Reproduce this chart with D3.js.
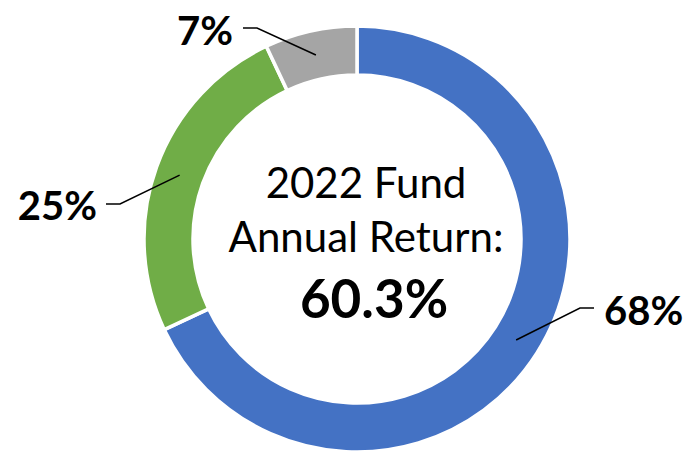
<!DOCTYPE html>
<html>
<head>
<meta charset="utf-8">
<script src="https://cdn.jsdelivr.net/npm/d3@7"></script>
<style>
  html, body { margin: 0; padding: 0; background: #fff; }
  svg { display: block; }
  text { font-family: Lato, "Noto Sans", sans-serif; fill: #000; }
</style>
</head>
<body>
<svg id="chart" width="687" height="451"></svg>
<script>
// ---- data ----
const segments = ["Segment A", "Segment B", "Segment C"];
const values = [68, 25, 7];
const colors = ["#4472C4", "#70AD47", "#A5A5A5"];
const labels = ["68%", "25%", "7%"];
const centerLines = ["2022 Fund", "Annual Return:"];
const centerValue = "60.3%";

// ---- layout ----
const W = 687, H = 451;
const cx = 357, cy = 239;
const outerR = 213, innerR = 164;
// label placement relative to center
const labelLayout = [
  { elbow: [223, 69], end: [237, 69], text: [247, 86], anchor: "start" },
  { elbow: [-237, -35], end: [-251, -35], text: [-260, -19], anchor: "end" },
  { elbow: [-100, -211], end: [-114, -211], text: [-124, -194], anchor: "end" }
];

const svg = d3.select("#chart");
const g = svg.append("g").attr("transform", `translate(${cx},${cy})`);

const pie = d3.pie().sort(null).value(d => d.value);
const data = pie(segments.map((s, i) => ({ name: s, value: values[i], color: colors[i], label: labels[i] })));
const arc = d3.arc().innerRadius(innerR).outerRadius(outerR);
const midArc = d3.arc().innerRadius((innerR + outerR) / 2).outerRadius((innerR + outerR) / 2);

g.selectAll("path.slice")
  .data(data)
  .join("path")
  .attr("class", "slice")
  .attr("d", arc)
  .attr("fill", d => d.data.color)
  .attr("stroke", "#fff")
  .attr("stroke-width", 3.5);

// leader lines
g.selectAll("polyline.leader")
  .data(data)
  .join("polyline")
  .attr("class", "leader")
  .attr("fill", "none")
  .attr("stroke", "#000")
  .attr("stroke-width", 1.5)
  .attr("points", (d, i) => {
    const c = midArc.centroid(d);
    const L = labelLayout[i];
    return [c, L.elbow, L.end].map(p => p.join(",")).join(" ");
  });

g.selectAll("text.lbl")
  .data(data)
  .join("text")
  .attr("class", "lbl")
  .attr("x", (d, i) => labelLayout[i].text[0])
  .attr("y", (d, i) => labelLayout[i].text[1])
  .attr("text-anchor", (d, i) => labelLayout[i].anchor)
  .attr("font-weight", "bold")
  .attr("font-size", 40)
  .text(d => d.data.label);

// center text
const tx = 9;
g.append("text")
  .attr("x", tx).attr("y", -41)
  .attr("text-anchor", "middle")
  .attr("font-size", 42)
  .text(centerLines[0]);
g.append("text")
  .attr("x", tx).attr("y", 13)
  .attr("text-anchor", "middle")
  .attr("font-size", 42)
  .text(centerLines[1]);
g.append("text")
  .attr("x", tx + 8).attr("y", 79)
  .attr("text-anchor", "middle")
  .attr("font-size", 53)
  .attr("font-weight", "bold")
  .text(centerValue);
</script>
</body>
</html>
